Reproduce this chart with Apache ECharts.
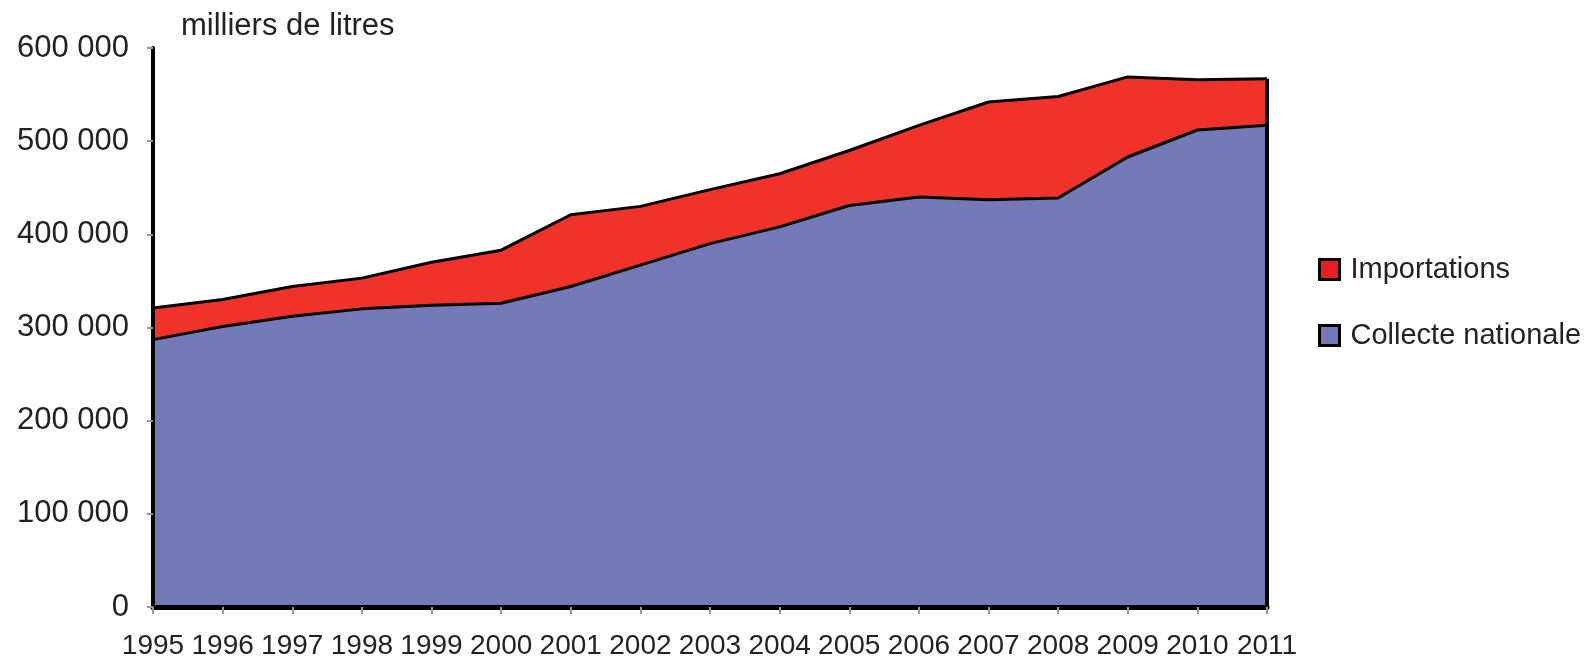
<!DOCTYPE html>
<html>
<head>
<meta charset="utf-8">
<script src="https://cdn.jsdelivr.net/npm/echarts@6/dist/echarts.min.js"></script>
<style>
html,body{margin:0;padding:0;background:#fff;}
#c1{width:1590px;height:666px;}
</style>
</head>
<body>
<div id="c1"></div>
<script>
// années
let years = ['1995','1996','1997','1998','1999','2000','2001','2002','2003','2004','2005','2006','2007','2008','2009','2010','2011']
// milliers de litres
let collecte = [287000,301000,312000,320000,324000,326000,344000,367000,390000,408000,431000,440000,437000,439000,483000,512000,517000]
let importations = [34000,29000,32000,33000,46000,57000,77000,63000,58000,57000,59000,77000,105000,109000,86000,54000,50000]
let yTicks = [0,100000,200000,300000,400000,500000,600000]

let fmt = function(v){
    let s = String(v)
    return s.length > 3 ? s.slice(0, s.length-3) + ' ' + s.slice(-3) : s
}
let last = years.length - 1

let chart = echarts.init(document.getElementById('c1'))
let option = {
    backgroundColor:'#fff',
    animation:false,
    textStyle:{fontFamily:'Liberation Sans'},
    title:{
        text:'milliers de litres',
        left:176,
        top:6,
        textStyle:{fontSize:31,fontWeight:'normal',color:'#222',fontFamily:'Liberation Sans'}
    },
    grid:{left:153,right:323,top:48,bottom:59},
    legend:{
        orient:'vertical',
        left:1313,
        top:250,
        itemGap:37,
        itemWidth:20,
        itemHeight:20,
        icon:'rect',
        textStyle:{fontSize:29,color:'#222',padding:[0,0,0,6]},
        data:[
            {name:'Importations',itemStyle:{color:'#ED1C24',borderColor:'#000',borderWidth:3}},
            {name:'Collecte nationale',itemStyle:{color:'#7479B8',borderColor:'#000',borderWidth:3}}
        ]
    },
    xAxis:{
        type:'category',
        boundaryGap:false,
        data:years,
        z:5,
        axisLine:{lineStyle:{color:'#000',width:5}},
        axisTick:{show:true,length:7,lineStyle:{color:'#999',width:2}},
        axisLabel:{fontSize:28,color:'#222',margin:25,interval:0}
    },
    yAxis:{
        type:'value',
        min:yTicks[0],
        max:yTicks[yTicks.length-1],
        interval:100000,
        z:5,
        axisLine:{show:true,lineStyle:{color:'#000',width:4}},
        axisTick:{show:true,length:6,lineStyle:{color:'#999',width:2}},
        splitLine:{show:false},
        axisLabel:{fontSize:31,color:'#222',margin:24,formatter:fmt}
    },
    series:[
        {
            name:'Collecte nationale',
            type:'line',
            stack:'total',
            data:collecte,
            symbol:'none',
            lineStyle:{color:'#000',width:3},
            itemStyle:{color:'#7479B8'},
            areaStyle:{color:'#7479B8',opacity:1}
        },
        {
            name:'Importations',
            type:'line',
            stack:'total',
            data:importations,
            symbol:'none',
            lineStyle:{color:'#000',width:3},
            itemStyle:{color:'#EF332B'},
            areaStyle:{color:'#EF332B',opacity:1},
            markLine:{
                silent:true,
                symbol:'none',
                label:{show:false},
                lineStyle:{color:'#000',width:4,type:'solid'},
                data:[[
                    {coord:[years[last],0]},
                    {coord:[years[last],collecte[last]+importations[last]]}
                ]]
            }
        }
    ]
}
chart.setOption(option)
</script>
</body>
</html>
